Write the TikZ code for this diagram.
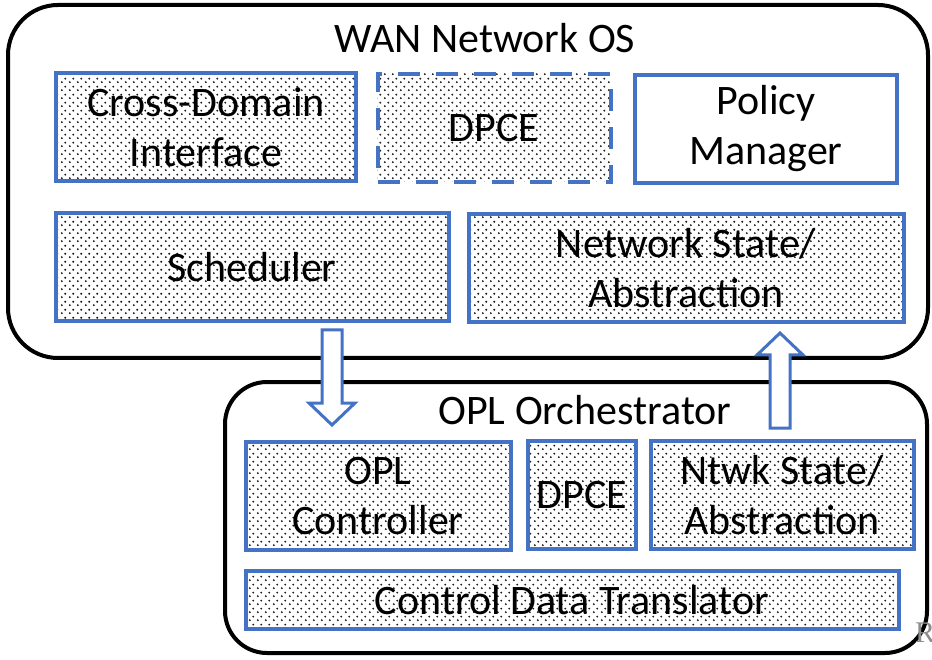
\documentclass[tikz,border=0pt]{standalone}
\usepackage{fontspec}
\setmainfont{Carlito}
\newfontfamily\edgefont{Liberation Serif}
\usepackage{xcolor}
\usepackage{tikz}
\usetikzlibrary{calc,patterns.meta}
\definecolor{ModuleBlue}{HTML}{4472C4}
\definecolor{StippleGray}{HTML}{1A1A1A}
\definecolor{EdgeGray}{HTML}{8C8C8C}

\newcommand\boxfont{\fontsize{42}{50}\selectfont}

\tikzdeclarepattern{
  name=stipple,
  type=uncolored,
  bottom left={(0pt,0pt)},
  top right={(7.5pt,7.5pt)},
  tile size={(7.5pt,7.5pt)},
  code={
    \fill (1.9pt,1.9pt) circle (1.1pt);
    \fill (5.6pt,5.6pt) circle (1.1pt);
  }
}

\tikzset{
  osframe/.style={draw=black,line width=4pt},
  frametitle/.style={font=\boxfont,inner sep=0pt},
  modbox/.style={draw=ModuleBlue,line width=4pt,align=center,inner sep=0pt,font=\boxfont},
  stippled/.style={modbox,pattern=stipple,pattern color=StippleGray},
  blockarrow/.style={draw=ModuleBlue,fill=white,line width=3pt,line join=miter}
}

% hollow block arrow from #1 (tail) to #2 (tip)
\newcommand\hollowarrow[2]{%
  \coordinate (ah) at ($(#2)!22pt!(#1)$);
  \draw[blockarrow]
    ($(#1)!10pt!90:(#2)$) -- ($(ah)!10pt!90:(#2)$) -- ($(ah)!23pt!90:(#2)$)
    -- (#2) -- ($(ah)!23pt!-90:(#2)$) -- ($(ah)!10pt!-90:(#2)$)
    -- ($(#1)!10pt!-90:(#2)$) -- cycle;
}

\begin{document}
\begin{tikzpicture}[x=1pt,y=-1pt]
  \useasboundingbox (0,0) rectangle (932,660);
  \fill[white] (0,0) rectangle (932,660);

  % WAN Network OS
  \draw[osframe,rounded corners=50pt] (8,5) rectangle (928,358);
  \node[frametitle] (wantitle) at (485,38) {WAN Network OS};
  \node[stippled,minimum width=300pt,minimum height=108pt] (xdomain) at (206,127) {Cross-Domain\\Interface};
  \node[stippled,dash pattern=on 22pt off 16pt,minimum width=233pt,minimum height=108pt] (wandpce) at (494,128) {DPCE};
  \node[modbox,fill=white,minimum width=262pt,minimum height=108pt] (policy) at (766,129) {Policy\\Manager};
  \node[stippled,minimum width=393pt,minimum height=108pt] (sched) at (252,267) {Scheduler};
  \node[stippled,minimum width=435pt,minimum height=108pt] (netstate) at (686,268) {Network State/\\Abstraction};

  % OPL Orchestrator
  \draw[osframe,rounded corners=42pt] (225,382) rectangle (927,653);
  \node[frametitle] (opltitle) at (585,410) {OPL Orchestrator};
  \node[stippled,minimum width=265pt,minimum height=108pt] (oplctrl) at (378,496) {OPL\\Controller};
  \node[stippled,minimum width=108pt,minimum height=108pt] (opldpce) at (582,495) {DPCE};
  \node[stippled,minimum width=263pt,minimum height=108pt] (ntwkstate) at (782,495) {Ntwk State/\\Abstraction};
  \node[stippled,minimum width=653pt,minimum height=58pt] (translator) at (572,600) {Control Data Translator};

  % arrows between the two layers
  \coordinate (downtail) at (332,330);
  \coordinate (downtip) at (332,425);
  \coordinate (uptail) at (780,428);
  \coordinate (uptip) at (780,333);
  \hollowarrow{downtail}{downtip}
  \hollowarrow{uptail}{uptip}

  \node[anchor=west,inner sep=0pt,text=EdgeGray,font=\edgefont\fontsize{30}{30}\selectfont] (cutr) at (915,633) {R};
\end{tikzpicture}
\end{document}
